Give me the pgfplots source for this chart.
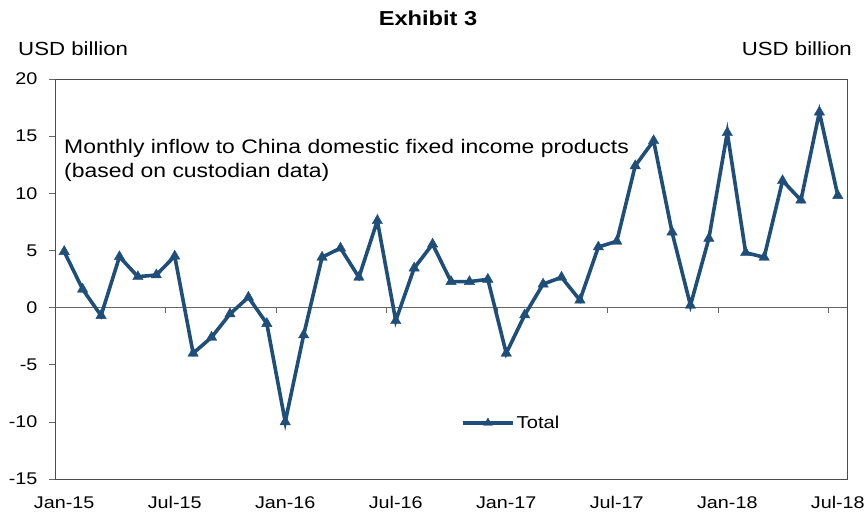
\documentclass[border=0pt]{standalone}
\usepackage{fontspec}
\setmainfont[FakeStretch=1.17]{Liberation Sans}
\usepackage{pgfplots}
\pgfplotsset{compat=1.18}
\definecolor{lineblue}{HTML}{1F4E79}
\newcommand{\chfont}{\fontsize{19.6}{22}\selectfont}
\newcommand{\tkfont}{\fontsize{16.9}{19}\selectfont}
\begin{document}
\begin{tikzpicture}
\path[use as bounding box] (-55pt,-34pt) rectangle (812pt,479pt);
\begin{axis}[
  scale only axis, width=792pt, height=400pt,
  xmin=-0.5, xmax=42.5, ymin=-15, ymax=20,
  xtick={0,6,12,18,24,30,36,42},
  xticklabels={Jan-15,Jul-15,Jan-16,Jul-16,Jan-17,Jul-17,Jan-18,Jul-18},
  major x tick style={draw=none},
  ytick={-15,-10,-5,0,5,10,15,20},
  yticklabels={-15,-10,-5,0,5,10,15,20},
  ytick pos=left, xtick pos=bottom,
  tick align=outside,
  major tick length=6pt,
  ytick style={color=gray!80!black, line width=0.6pt},
  axis line style={color=gray!60!black, line width=0.9pt},
  tick label style={font=\tkfont, text=black},
  xticklabel style={yshift=-8pt},
  yticklabel style={xshift=-8pt},
  legend style={draw=none, fill=none, at={(0.576,0.14)}, anchor=center, font=\fontsize{17.2}{19}\selectfont},
  legend image code/.code={\draw[mark repeat=2,mark phase=2, mark size=5pt] plot coordinates {(0pt,0pt)(25pt,0pt)(50pt,0pt)};},
]
\draw[color=gray!80!black, line width=0.8pt] (axis cs:-0.5,0) -- (axis cs:42.5,0);
\draw[color=gray!80!black, line width=0.6pt] (axis cs:5.5,0) -- ++(0pt,-5pt);
\draw[color=gray!80!black, line width=0.6pt] (axis cs:11.5,0) -- ++(0pt,-5pt);
\draw[color=gray!80!black, line width=0.6pt] (axis cs:17.5,0) -- ++(0pt,-5pt);
\draw[color=gray!80!black, line width=0.6pt] (axis cs:23.5,0) -- ++(0pt,-5pt);
\draw[color=gray!80!black, line width=0.6pt] (axis cs:29.5,0) -- ++(0pt,-5pt);
\draw[color=gray!80!black, line width=0.6pt] (axis cs:35.5,0) -- ++(0pt,-5pt);
\draw[color=gray!80!black, line width=0.6pt] (axis cs:41.5,0) -- ++(0pt,-5pt);
\addplot[color=lineblue, line width=3.6pt, mark=triangle*, mark size=6pt, mark options={solid, line width=0.4pt}] coordinates {
(0,4.9) (1,1.6) (2,-0.7) (3,4.45) (4,2.7) (5,2.85) (6,4.5) (7,-4.0) (8,-2.6) (9,-0.56)
(10,0.9) (11,-1.4) (12,-10.0) (13,-2.4) (14,4.4) (15,5.2) (16,2.65) (17,7.6) (18,-1.15) (19,3.45)
(20,5.55) (21,2.27) (22,2.27) (23,2.47) (24,-4.0) (25,-0.65) (26,2.05) (27,2.65) (28,0.65) (29,5.3)
(30,5.8) (31,12.4) (32,14.6) (33,6.6) (34,0.2) (35,6.05) (36,15.3) (37,4.8) (38,4.4) (39,11.1)
(40,9.4) (41,17.1) (42,9.8)
};
\addlegendentry{Total}
\end{axis}
\node[font=\bfseries\fontsize{20.2}{22}\selectfont] at (373pt,461pt) {Exhibit 3};
\node[font=\fontsize{19}{22}\selectfont, anchor=west, inner sep=0pt] at (-37pt,430.5pt) {USD billion};
\node[font=\fontsize{19}{22}\selectfont, anchor=east, inner sep=0pt] at (797pt,430.5pt) {USD billion};
\node[font=\chfont, anchor=base west, inner sep=0pt] at (9pt,325pt) {Monthly inflow to China domestic fixed income products};
\node[font=\chfont, anchor=base west, inner sep=0pt] at (9pt,301pt) {(based on custodian data)};
\end{tikzpicture}
\end{document}
